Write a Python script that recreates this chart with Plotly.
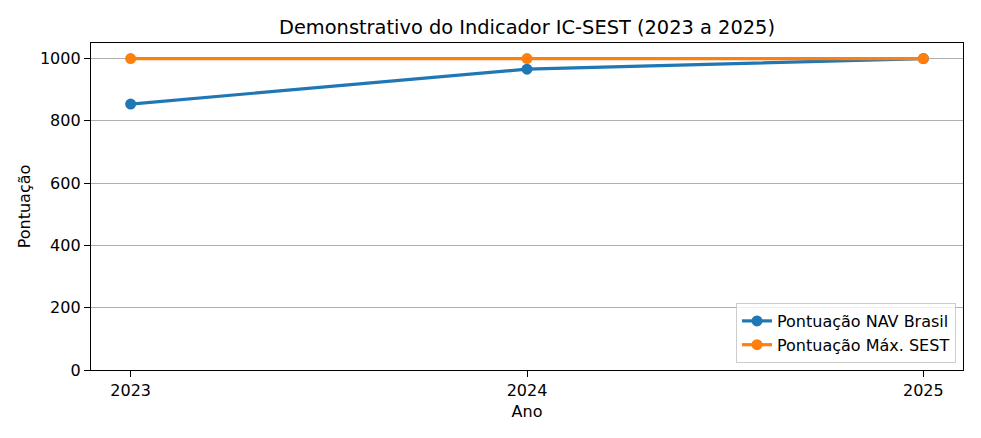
import plotly.graph_objects as go

anos = [2023, 2024, 2025]
pontuacao_nav = [854, 966, 1000]
pontuacao_max = [1000, 1000, 1000]
serie_nomes = ["Pontuação NAV Brasil", "Pontuação Máx. SEST"]
cores = ["#1f77b4", "#ff7f0e"]
titulo = "Demonstrativo do Indicador IC-SEST (2023 a 2025)"

fig = go.Figure()
for nome, vals, cor in zip(serie_nomes, [pontuacao_nav, pontuacao_max], cores):
    fig.add_trace(go.Scatter(
        x=anos, y=vals, mode="lines+markers", name=nome,
        line=dict(color=cor, width=3.2),
        marker=dict(color=cor, size=11),
    ))

W, H = 981, 438
L, R, T, B = 91, 18, 43, 68
fig.update_layout(
    width=W, height=H,
    margin=dict(l=L, r=R, t=T, b=B),
    paper_bgcolor="white", plot_bgcolor="white",
    font=dict(family="DejaVu Sans", size=16, color="black"),
    title=dict(text=titulo, x=0.5, xref="paper", xanchor="center",
               y=1 - 27 / H, yref="container", yanchor="middle",
               font=dict(size=19.4, color="black")),
    showlegend=True,
    legend=dict(x=1 - 7 / (W - L - R), xanchor="right", y=7 / (H - T - B), yanchor="bottom",
                bgcolor="rgba(255,255,255,0.8)", bordercolor="#cccccc", borderwidth=1,
                font=dict(size=16), tracegroupgap=0),
)
fig.update_xaxes(
    range=[2022.9, 2025.1], tickvals=anos, ticktext=[str(a) for a in anos],
    showgrid=False, zeroline=False, automargin=False,
    showline=True, linecolor="black", linewidth=1.3, mirror=True,
    ticks="outside", ticklen=6, tickwidth=1.3, tickcolor="black",
    title=dict(text="Ano", standoff=6, font=dict(size=16)),
)
fig.update_yaxes(
    range=[0, 1050], tickvals=[0, 200, 400, 600, 800, 1000],
    showgrid=True, gridcolor="#b0b0b0", gridwidth=1, zeroline=False, automargin=False,
    showline=True, linecolor="black", linewidth=1.3, mirror=True,
    ticks="outside", ticklen=6, tickwidth=1.3, tickcolor="black",
    title=dict(text="Pontuação", standoff=5, font=dict(size=16)),
)

fig.write_html("out.html", config={"displayModeBar": False},
               post_script="document.body.style.margin='0';")
